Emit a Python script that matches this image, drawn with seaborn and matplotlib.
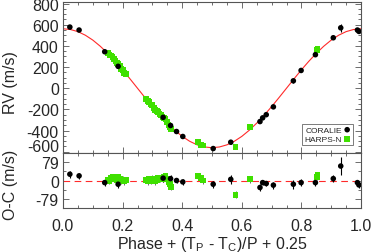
import numpy as np
import pandas as pd
import matplotlib
matplotlib.use("Agg")
import matplotlib.pyplot as plt
import matplotlib.transforms as mtransforms
from matplotlib.ticker import MultipleLocator, FixedLocator
import seaborn as sns

# ---------------- data ----------------
model_phase = [i * 0.025 for i in range(41)]
model_rv = [562, 555, 535, 501, 455, 397, 330, 255, 174, 88, 0, -88, -174, -255, -330,
            -397, -455, -501, -535, -555, -562, -555, -535, -501, -455, -397, -330, -255,
            -174, -88, 0, 88, 174, 255, 330, 397, 455, 501, 535, 555, 562]

coralie_phase = [0.023, 0.054, 0.140, 0.185, 0.336, 0.361, 0.381, 0.402, 0.504, 0.563,
                 0.661, 0.670, 0.682, 0.706, 0.773, 0.799, 0.847, 0.907, 0.932, 0.988, 0.993]
coralie_rv = [578, 550, 345, 207, -275, -352, -409, -456, -570, -510,
              -315, -280, -250, -176, 70, 168, 317, 477, 571, 550, 537]
coralie_oc = [27, 20, -9, -16, 10, 8, 0, -6, -16, 5,
              -30, -9, -13, -20, -16, -9, -9, 8, 62, -9, -19]
coralie_err = [15, 12, 15, 15, 15, 15, 12, 12, 15, 20,
               15, 12, 12, 15, 20, 15, 15, 15, 40, 12, 12]

harps_phase = [0.151, 0.156, 0.161, 0.166, 0.171, 0.176, 0.181, 0.186, 0.191, 0.196,
               0.201, 0.206, 0.211,
               0.279, 0.284, 0.289, 0.294, 0.299, 0.304, 0.309, 0.314, 0.319, 0.324,
               0.329, 0.334, 0.339, 0.344, 0.349, 0.354, 0.358, 0.362,
               0.453, 0.462, 0.470, 0.579, 0.628, 0.853, 0.854]
harps_rv = [330, 310, 309, 298, 273, 261, 237, 233, 208, 186,
            173, 148, 138,
            -100, -123, -130, -154, -162, -184, -207, -215, -225, -245,
            -255, -274, -281, -292, -320, -348, -367, -388,
            -509, -535, -541, -555, -368, 358, 368]
harps_oc = [4, -2, 12, 16, 6, 10, 2, 14, 6, 0,
            4, -4, 2,
            2, -4, 6, -2, 8, 2, -4, 4, 10, 6,
            12, 8, 16, 20, 6, -8, -16, -26,
            19, 10, 0, -61, 5, 16, 24]
harps_err = [14] * 38

ytick_top = [800, 600, 400, 200, 0, -200, -400, -600]
ytick_bot = [79, 0, -79]
xticks = [0.0, 0.2, 0.4, 0.6, 0.8, 1.0]

# ---------------- style ----------------
sns.set_style("ticks")
plt.rcParams["font.family"] = ["Liberation Sans", "DejaVu Sans"]
plt.rcParams["mathtext.fontset"] = "custom"
plt.rcParams["mathtext.rm"] = "Liberation Sans"
plt.rcParams["mathtext.it"] = "Liberation Sans"
plt.rcParams["axes.unicode_minus"] = False

FS = 11.5
GREEN = "#3fe000"
RED = "#ff2a2a"
FRAME = "#555555"

fig = plt.figure(figsize=(3.72, 2.53), dpi=100)
L, R = 63 / 372, 361 / 372
ax1 = fig.add_axes([L, 1 - 154 / 253, R - L, (154 - 3) / 253])
ax2 = fig.add_axes([L, 1 - 209 / 253, R - L, (209 - 154) / 253])

model = pd.DataFrame({"phase": model_phase, "rv": model_rv})
cor = pd.DataFrame({"phase": coralie_phase, "rv": coralie_rv, "oc": coralie_oc, "err": coralie_err})
har = pd.DataFrame({"phase": harps_phase, "rv": harps_rv, "oc": harps_oc, "err": harps_err})

# top panel
sns.lineplot(data=model, x="phase", y="rv", ax=ax1, color=RED, lw=0.8, zorder=2)
ax1.errorbar(har["phase"], har["rv"], yerr=har["err"], fmt="none", ecolor="#333333",
             elinewidth=0.5, zorder=3)
ax1.errorbar(cor["phase"], cor["rv"], yerr=cor["err"], fmt="none", ecolor="black",
             elinewidth=0.8, zorder=3)
sns.scatterplot(data=har, x="phase", y="rv", ax=ax1, marker="s", s=18, color=GREEN,
                edgecolor="none", zorder=4, label="HARPS-N")
sns.scatterplot(data=cor, x="phase", y="rv", ax=ax1, marker="o", s=16, color="black",
                edgecolor="none", zorder=5, label="CORALIE")

# bottom panel
ax2.axhline(0, color=RED, lw=0.8, dashes=(6, 4), zorder=1)
ax2.errorbar(har["phase"], har["oc"], yerr=har["err"], fmt="none", ecolor="#333333",
             elinewidth=0.5, zorder=3)
ax2.errorbar(cor["phase"], cor["oc"], yerr=cor["err"], fmt="none", ecolor="black",
             elinewidth=0.8, zorder=3)
sns.scatterplot(data=har, x="phase", y="oc", ax=ax2, marker="s", s=18, color=GREEN,
                edgecolor="none", zorder=4, legend=False)
sns.scatterplot(data=cor, x="phase", y="oc", ax=ax2, marker="o", s=16, color="black",
                edgecolor="none", zorder=5, legend=False)

for ax in (ax1, ax2):
    ax.set_xlim(0, 1.0)
    ax.xaxis.set_major_locator(FixedLocator(xticks))
    ax.xaxis.set_minor_locator(MultipleLocator(0.05))
    ax.tick_params(which="both", direction="in", top=True, right=True, color=FRAME,
                   labelsize=FS, pad=3)
    ax.tick_params(which="major", length=4, width=0.6)
    ax.tick_params(which="minor", length=2, width=0.6)
    for sp in ax.spines.values():
        sp.set_color(FRAME)
        sp.set_linewidth(0.8)

ax1.set_ylim(-612, 815)
ax1.yaxis.set_major_locator(FixedLocator(ytick_top))
ax1.yaxis.set_minor_locator(MultipleLocator(50))
ax1.set_xticklabels([])
ax1.set_xlabel("")
ax1.set_ylabel("RV (m/s)", fontsize=FS)
ax1.yaxis.set_label_coords(-0.152, 0.47)

ax2.set_ylim(-118, 118)
ax2.yaxis.set_major_locator(FixedLocator(ytick_bot))
ax2.yaxis.set_minor_locator(MultipleLocator(39.5))
ax2.set_xticklabels(["0.0", "0.2", "0.4", "0.6", "0.8", "1.0"])
ax2.tick_params(axis="x", pad=7)
ax2.set_ylabel("O-C (m/s)", fontsize=FS)
ax2.yaxis.set_label_coords(-0.152, 0.44)
ax2.set_xlabel(r"Phase + (T$_\mathrm{P}$ - T$_\mathrm{C}$)/P + 0.25", fontsize=FS, labelpad=1)

# shift the lowest RV tick label up slightly, as in the reference
fig.canvas.draw()
lab = ax1.get_yticklabels()[-1]
lab.set_transform(lab.get_transform() + mtransforms.ScaledTranslation(0, 5 / 72, fig.dpi_scale_trans))

# legend (text left, marker right)
h, l = ax1.get_legend_handles_labels()
order = [l.index("CORALIE"), l.index("HARPS-N")]
leg = ax1.legend([h[i] for i in order], [l[i] for i in order], loc="upper left",
                 bbox_to_anchor=(0.803, 0.195), markerfirst=False, fontsize=6,
                 frameon=True, fancybox=False, edgecolor="#666666", framealpha=1,
                 borderpad=0.3, handletextpad=0.2, handlelength=0.8, labelspacing=0.15,
                 borderaxespad=0)
leg.get_frame().set_linewidth(0.6)

fig.savefig("out.png", dpi=100)
